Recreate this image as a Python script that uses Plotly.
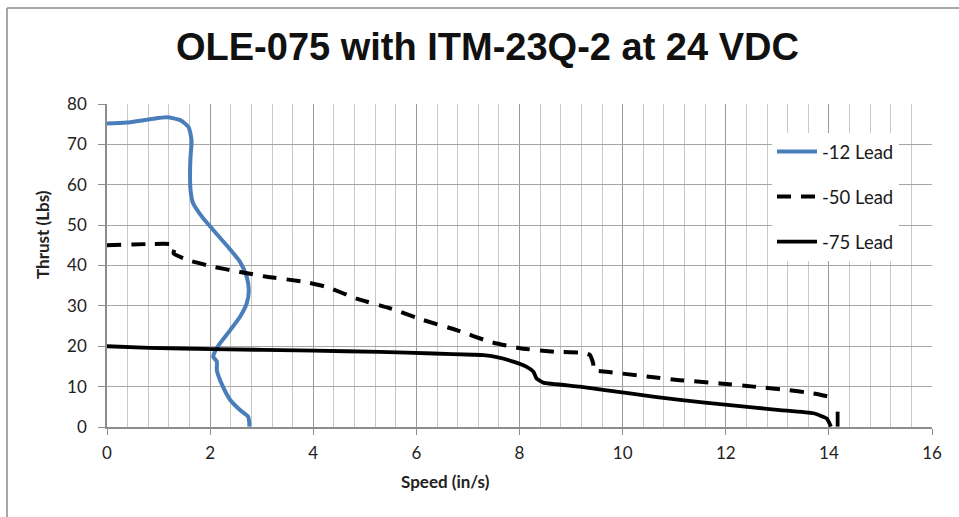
import plotly.graph_objects as go

# -12 Lead
speed_12 = [0.0, 0.38, 0.83, 1.16, 1.42, 1.58, 1.64, 1.62, 1.61, 1.62, 1.67, 1.84, 2.06, 2.32,
            2.58, 2.71, 2.75, 2.71, 2.58, 2.39, 2.19, 2.09, 2.06, 2.13, 2.13, 2.22, 2.39, 2.58,
            2.74, 2.76, 2.76]
thrust_12 = [75.2, 75.4, 76.2, 76.7, 76.0, 74.3, 71.0, 66.9, 62.8, 58.7, 55.4, 52.1, 48.8, 45.0,
             40.9, 37.2, 33.9, 30.6, 27.3, 24.0, 20.7, 18.6, 17.4, 16.2, 14.1, 10.8, 6.7, 4.2,
             2.5, 0.9, 0.1]

# -50 Lead
speed_50 = [0.0, 0.77, 1.22, 1.32, 1.29, 1.58, 2.06, 2.58, 3.10, 3.81, 4.26, 4.84, 5.49, 6.13,
            6.78, 7.43, 8.01, 8.72, 9.24, 9.37, 9.43, 9.43, 9.69, 10.47, 11.11, 11.89, 12.54,
            13.18, 13.70, 14.02]
thrust_50 = [45.0, 45.3, 45.3, 44.6, 43.0, 41.3, 39.7, 38.4, 37.2, 36.0, 34.7, 31.8, 29.4, 26.5,
             24.0, 21.1, 19.5, 18.6, 18.4, 17.8, 15.7, 14.1, 13.7, 12.5, 11.6, 10.8, 10.0,
             9.2, 8.3, 7.5]

# -75 Lead
speed_75 = [0.0, 0.83, 2.06, 4.0, 5.29, 6.33, 7.10, 7.30, 7.56, 7.88, 8.14, 8.27, 8.33, 8.46,
            9.17, 10.14, 11.11, 12.08, 13.05, 13.70, 13.96, 14.04, None, 14.17, 14.17]
thrust_75 = [20.0, 19.6, 19.3, 18.9, 18.6, 18.2, 17.9, 17.8, 17.3, 16.2, 14.9, 13.7, 12.0, 11.0,
             10.0, 8.3, 6.7, 5.4, 4.2, 3.4, 2.1, 0.1, None, 3.8, 0.1]

x_ticks = [0, 2, 4, 6, 8, 10, 12, 14, 16]
y_ticks = [0, 10, 20, 30, 40, 50, 60, 70, 80]

W, H = 959, 517
ML, MR, MT, MB = 107, 27, 104, 90
PW, PH = W - ML - MR, H - MT - MB

def px_x(p):
    return (p - ML) / PW

def px_y(p):
    return (H - MB - p) / PH

fig = go.Figure()
fig.add_trace(go.Scatter(x=speed_12, y=thrust_12, mode="lines", name="-12 Lead",
                         legendgroup="a", line=dict(color="#4A7EBB", width=4, shape="spline", smoothing=0.6)))
fig.add_trace(go.Scatter(x=speed_50, y=thrust_50, mode="lines", name="-50 Lead",
                         legendgroup="b", line=dict(color="black", width=4, dash="14px,10px",
                                                    shape="spline", smoothing=0.4)))
fig.add_trace(go.Scatter(x=speed_75, y=thrust_75, mode="lines", name="-75 Lead",
                         legendgroup="c", connectgaps=False,
                         line=dict(color="black", width=3.8, shape="spline", smoothing=0.4)))

tickfont = dict(family="Lato", size=17, color="#222222")
fig.update_layout(
    width=W, height=H,
    margin=dict(l=ML, r=MR, t=MT, b=MB),
    paper_bgcolor="white", plot_bgcolor="white",
    showlegend=True,
    legend=dict(x=px_x(772), y=px_y(133), xanchor="left", yanchor="top",
                bgcolor="white", borderwidth=0, font=dict(family="Lato", size=18.5, color="#1a1a1a"),
                traceorder="grouped", tracegroupgap=18, itemwidth=40),
    xaxis=dict(range=[0, 16], tickvals=x_ticks, ticktext=[str(v) for v in x_ticks],
               ticks="outside", ticklen=6, tickcolor="#8c8c8c", showline=True,
               linecolor="#8c8c8c", linewidth=1.5, showgrid=True, gridcolor="#9a9a9a",
               gridwidth=1, zeroline=False, tickfont=tickfont, ticklabelstandoff=4,
               minor=dict(dtick=0.4, showgrid=True, gridcolor="#c8c8c8", gridwidth=1, ticks="")),
    yaxis=dict(range=[0, 80], tickvals=y_ticks, ticktext=[str(v) for v in y_ticks],
               ticks="outside", ticklen=7, tickcolor="#8c8c8c", showline=True,
               linecolor="#8c8c8c", linewidth=1.5, showgrid=True, gridcolor="#a6a6a6",
               gridwidth=1, zeroline=False, tickfont=tickfont, ticklabelstandoff=8),
    annotations=[
        dict(text="<b>OLE-075 with ITM-23Q-2 at 24 VDC</b>", xref="paper", yref="paper",
             x=px_x(487), y=px_y(47), xanchor="center", yanchor="middle", showarrow=False,
             font=dict(family="Liberation Sans", size=38, color="#111111")),
        dict(text="<b>Speed (in/s)</b>", xref="paper", yref="paper",
             x=px_x(445), y=px_y(481), xanchor="center", yanchor="middle", showarrow=False,
             font=dict(family="Lato", size=17, color="#222222")),
        dict(text="<b>Thrust (Lbs)</b>", xref="paper", yref="paper", textangle=-90,
             x=px_x(42), y=px_y(235), xanchor="center", yanchor="middle", showarrow=False,
             font=dict(family="Lato", size=17, color="#222222")),
    ],
    shapes=[
        dict(type="line", xref="paper", yref="paper", x0=px_x(7), x1=px_x(7),
             y0=px_y(8), y1=px_y(H + 5), line=dict(color="#8a8a8a", width=1.5)),
        dict(type="line", xref="paper", yref="paper", x0=px_x(7), x1=px_x(W + 5),
             y0=px_y(8), y1=px_y(8), line=dict(color="#8a8a8a", width=1.5)),
    ],
)

fig.write_html("out.html")
